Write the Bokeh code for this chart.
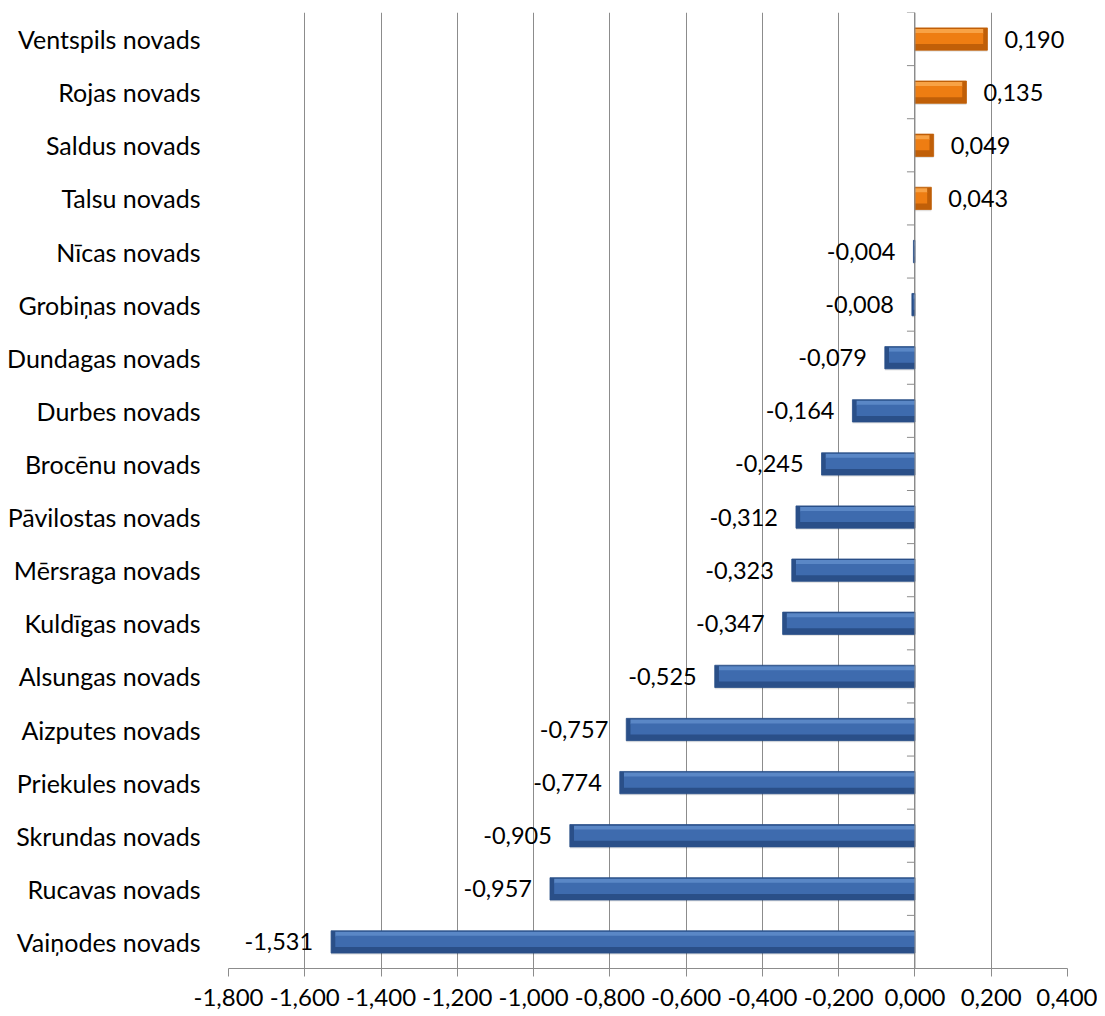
import math
from bokeh.plotting import figure
from bokeh.models import Range1d, FixedTicker, ColumnDataSource, Span
from bokeh.embed import file_html
from bokeh.resources import INLINE

categories = ["Ventspils novads", "Rojas novads", "Saldus novads", "Talsu novads",
              "Nīcas novads", "Grobiņas novads", "Dundagas novads", "Durbes novads",
              "Brocēnu novads", "Pāvilostas novads", "Mērsraga novads", "Kuldīgas novads",
              "Alsungas novads", "Aizputes novads", "Priekules novads", "Skrundas novads",
              "Rucavas novads", "Vaiņodes novads"]
values = [0.190, 0.135, 0.049, 0.043, -0.004, -0.008, -0.079, -0.164, -0.245,
          -0.312, -0.323, -0.347, -0.525, -0.757, -0.774, -0.905, -0.957, -1.531]
x_ticks = [-1.8, -1.6, -1.4, -1.2, -1.0, -0.8, -0.6, -0.4, -0.2, 0.0, 0.2, 0.4]
x_tick_labels = ["-1,800", "-1,600", "-1,400", "-1,200", "-1,000", "-0,800", "-0,600",
                 "-0,400", "-0,200", "0,000", "0,200", "0,400"]

FONT = "Lato"
GRID = "#8C8C8C"
n = len(categories)
ypos = [n - i - 0.5 for i in range(n)]

p = figure(width=1097, height=1012, output_backend="svg", toolbar_location=None,
           x_range=Range1d(-1.8, 0.4), y_range=Range1d(0, n),
           min_border_left=228, min_border_right=30, min_border_top=12, min_border_bottom=44)
p.outline_line_color = None
p.background_fill_color = "white"
p.border_fill_color = "white"

# x axis
p.xaxis.ticker = FixedTicker(ticks=x_ticks)
p.xaxis.major_label_overrides = {t: l for t, l in zip(x_ticks, x_tick_labels)}
p.xaxis.axis_line_color = GRID
p.xaxis.major_tick_line_color = GRID
p.xaxis.major_tick_in = 0
p.xaxis.major_tick_out = 8
p.xaxis.minor_tick_line_color = None
p.xaxis.major_label_standoff = 12
p.xaxis.major_label_text_font = FONT
p.xaxis.major_label_text_font_size = "24px"
p.xaxis.major_label_text_color = "black"

# y axis (category names)
p.yaxis.ticker = FixedTicker(ticks=ypos)
p.yaxis.major_label_overrides = {y: c for y, c in zip(ypos, categories)}
p.yaxis.axis_line_color = None
p.yaxis.major_tick_line_color = None
p.yaxis.minor_tick_line_color = None
p.yaxis.major_label_standoff = 22
p.yaxis.major_label_text_font = FONT
p.yaxis.major_label_text_font_size = "25px"
p.yaxis.major_label_text_color = "black"

p.xgrid.ticker = FixedTicker(ticks=x_ticks)
p.xgrid.grid_line_color = GRID
p.xgrid.grid_line_width = 1
p.ygrid.grid_line_color = None

# vertical axis at zero with ticks at category boundaries
p.add_layout(Span(location=0, dimension="height", line_color=GRID, line_width=1))
p.ray(x=[0] * (n + 1), y=list(range(n + 1)), length=8, angle=math.pi,
      length_units="screen", line_color=GRID, line_width=1)

# bars with bevel look
pos = [v >= 0 for v in values]
edge = ["#C05F08" if s else "#2A4F88" for s in pos]
hi = ["#F8A245" if s else "#5A87C6" for s in pos]
face = ["#EE7D12" if s else "#3E6BAE" for s in pos]
inset = 0.011
inner_l = []
inner_r = []
for v in values:
    d = min(inset, abs(v) / 2)
    if v < 0:
        inner_l.append(v + d)
        inner_r.append(0)
    else:
        inner_l.append(0)
        inner_r.append(v - d)

src = ColumnDataSource(dict(y=ypos, v=values, edge=edge, hi=hi, face=face,
                            il=inner_l, ir=inner_r,
                            yhi=[y + 0.145 for y in ypos], yface=[y + 0.01 for y in ypos],
                            ysh=[y - 0.02 for y in ypos]))
# shadow
p.hbar(y="ysh", left=0, right="v", height=0.44, source=src, fill_color="#000000",
       fill_alpha=0.10, line_color=None)
p.hbar(y="y", left=0, right="v", height=0.42, source=src, fill_color="edge",
       line_color="edge", line_width=0.8)
p.hbar(y="yhi", left="il", right="ir", height=0.09, source=src, fill_color="hi",
       line_color=None)
p.hbar(y="yface", left="il", right="ir", height=0.21, source=src, fill_color="face",
       line_color=None)

# value labels
labels = [("%.3f" % v).replace(".", ",") for v in values]
neg_idx = [i for i, v in enumerate(values) if v < 0]
pos_idx = [i for i, v in enumerate(values) if v >= 0]
for idx, align, off in ((neg_idx, "right", -18), (pos_idx, "left", 17)):
    s = ColumnDataSource(dict(x=[values[i] for i in idx], y=[ypos[i] for i in idx],
                              t=[labels[i] for i in idx]))
    p.text(x="x", y="y", text="t", source=s, text_align=align, text_baseline="middle",
           x_offset=off, text_font_size="23.5px", text_font={"value": FONT},
           text_color="black")

open("out.html", "w").write(file_html(p, INLINE))
